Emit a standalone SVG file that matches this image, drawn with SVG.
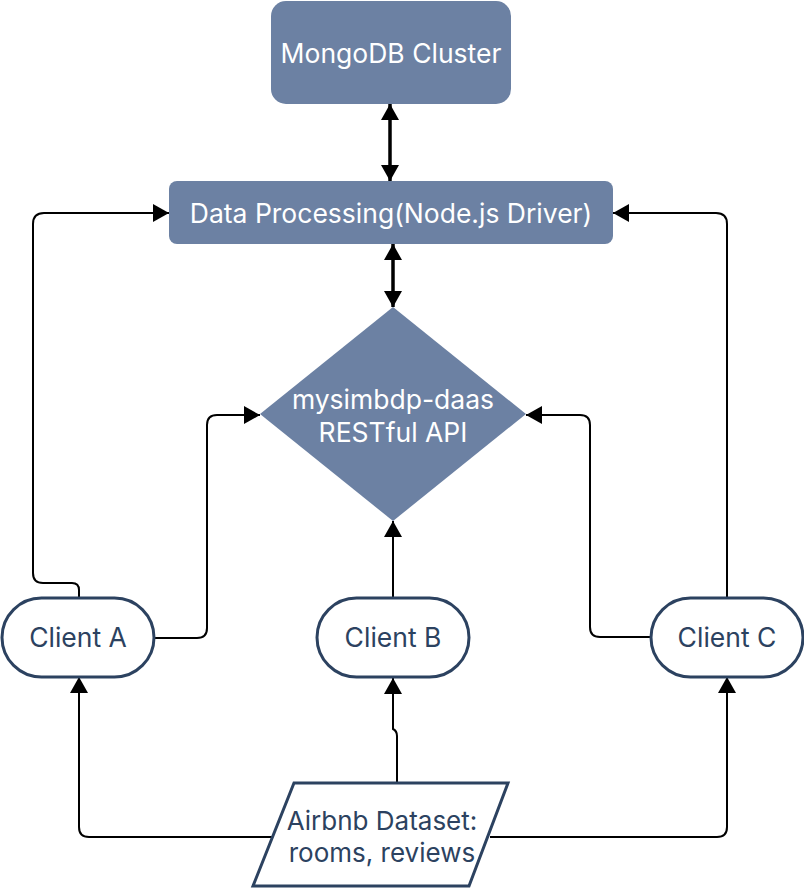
<svg xmlns="http://www.w3.org/2000/svg" width="804" height="890" viewBox="0 0 804 890">
<defs>
<style>
.box{fill:#6c81a3;}
.wt{fill:#ffffff;font-family:Inter,"Open Sans",sans-serif;font-size:26.5px;text-anchor:middle;}
.dt{fill:#2c4260;font-family:Inter,"Open Sans",sans-serif;font-size:26.5px;text-anchor:middle;}
.term{fill:#ffffff;stroke:#2c4260;stroke-width:3;}
.ln{fill:none;stroke:#000000;stroke-width:2;}
.thk{fill:none;stroke:#000000;stroke-width:3.5;}
</style>
<marker id="ah" viewBox="0 0 16 18" refX="16" refY="9" markerWidth="16" markerHeight="18" markerUnits="userSpaceOnUse" orient="auto-start-reverse">
<path d="M0,0 L16,9 L0,18 Z" fill="#000000"/>
</marker>
</defs>
<rect width="804" height="890" fill="#ffffff"/>

<g id="connectors">
<path class="thk" d="M390,104 L390,181" marker-start="url(#ah)" marker-end="url(#ah)"/>
<path class="thk" d="M393,244 L393,307" marker-start="url(#ah)" marker-end="url(#ah)"/>
<path class="ln" d="M79,598 L79,590 Q79,583 72,583 L43,583 Q33,583 33,573 L33,224 Q33,213 44,213 L169,213" marker-end="url(#ah)"/>
<path class="ln" d="M154,638 L197,638 Q207,638 207,628 L207,425 Q207,415 217,415 L260,415" marker-end="url(#ah)"/>
<path class="ln" d="M393,597 L393,521" marker-end="url(#ah)"/>
<path class="ln" d="M651,637 L600,637 Q590,637 590,627 L590,425 Q590,415 580,415 L526,415" marker-end="url(#ah)"/>
<path class="ln" d="M727,597 L727,224 Q727,213 716,213 L613,213" marker-end="url(#ah)"/>
<path class="ln" d="M272,837 L89,837 Q79,837 79,827 L79,677" marker-end="url(#ah)"/>
<path class="ln" d="M490,837 L717,837 Q727,837 727,827 L727,677" marker-end="url(#ah)"/>
<path class="ln" d="M397,782 L397,736 Q397,731 393,729 L393,678" marker-end="url(#ah)"/>
</g>

<g id="mongodb">
<rect class="box" x="271" y="1" width="240" height="103" rx="15"/>
<text class="wt" x="391" y="63">MongoDB Cluster</text>
</g>

<g id="data-processing">
<rect class="box" x="169" y="181" width="444" height="63" rx="8"/>
<text class="wt" x="391" y="223">Data Processing(Node.js Driver)</text>
</g>

<g id="api">
<path class="box" d="M393,307 L526,414 L393,521 L260,414 Z"/>
<text class="wt" x="393" y="409"><tspan x="393" y="409">mysimbdp-daas</tspan><tspan x="393" y="442">RESTful API</tspan></text>
</g>

<g id="client-a">
<rect class="term" x="2" y="598" width="152" height="79" rx="39.5"/>
<text class="dt" x="78" y="647">Client A</text>
</g>

<g id="client-b">
<rect class="term" x="317" y="598" width="152" height="79" rx="39.5"/>
<text class="dt" x="393" y="647">Client B</text>
</g>

<g id="client-c">
<rect class="term" x="651" y="598" width="152" height="79" rx="39.5"/>
<text class="dt" x="727" y="647">Client C</text>
</g>

<g id="dataset">
<path class="term" d="M294,783 L508,783 L469,886 L253,886 Z"/>
<text class="dt" x="382" y="830" style="font-size:26px"><tspan x="382" y="830">Airbnb Dataset:</tspan><tspan x="382" y="862">rooms, reviews</tspan></text>
</g>
</svg>
